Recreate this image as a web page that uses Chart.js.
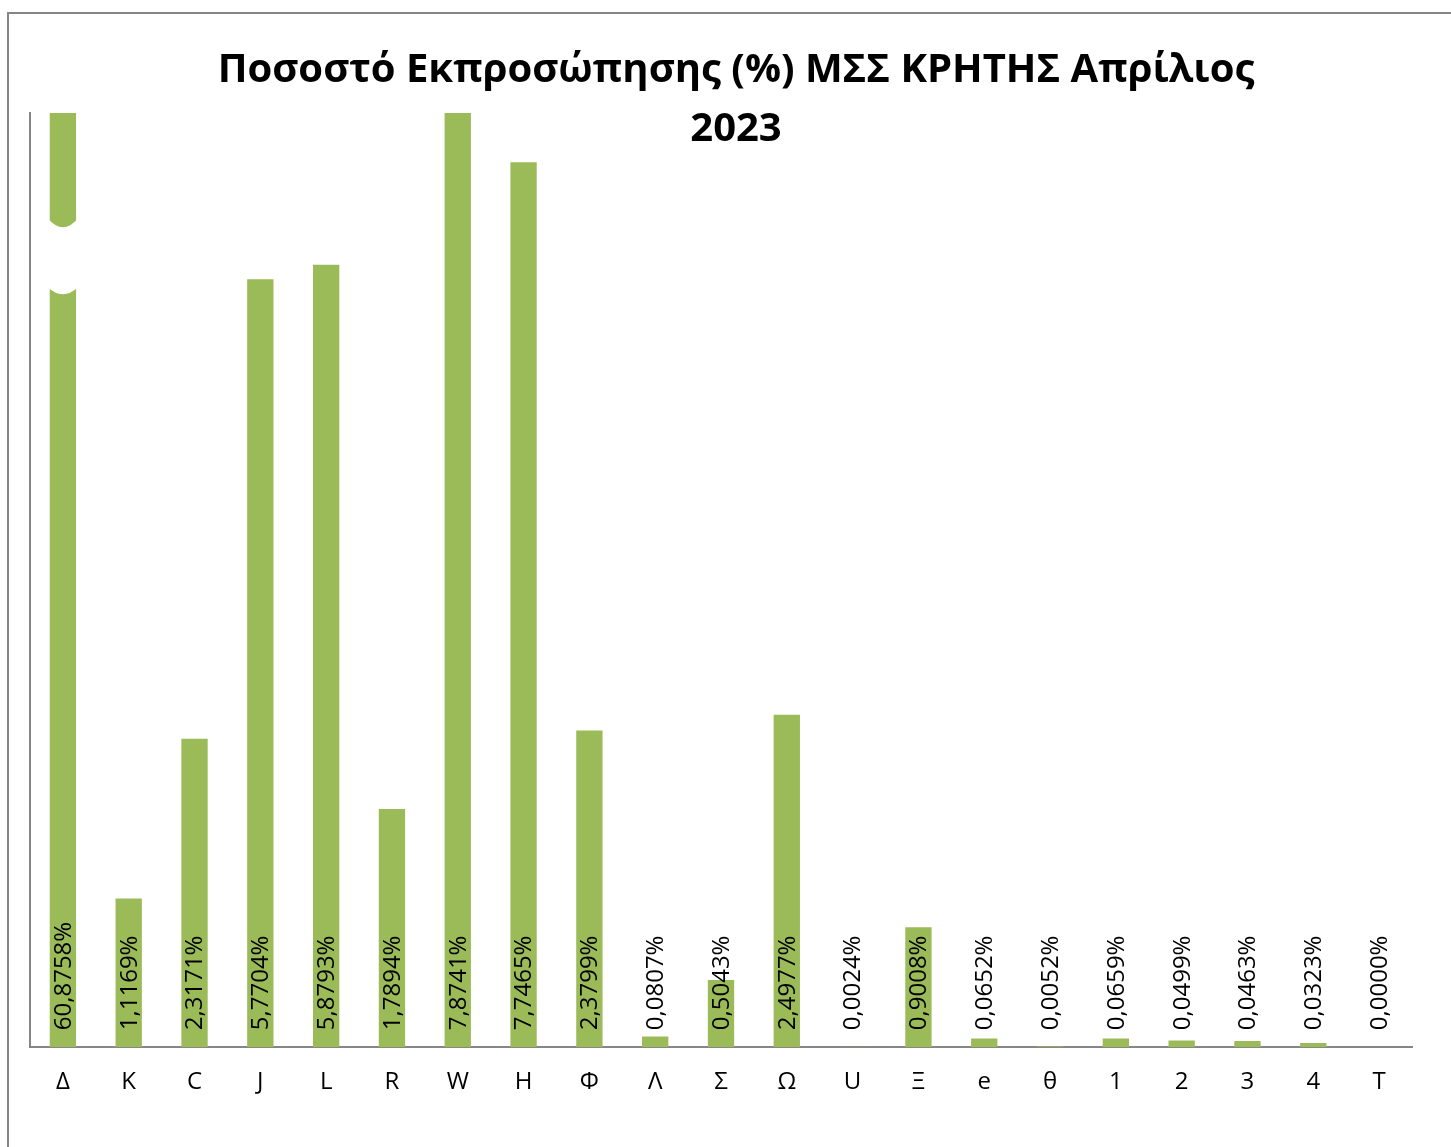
<!DOCTYPE html>
<html>
<head>
<meta charset="utf-8">
<script src="https://cdn.jsdelivr.net/npm/chart.js@4.4.0/dist/chart.umd.min.js"></script>
<style>
  html, body { margin: 0; padding: 0; background: #fff; }
  #wrap { position: relative; width: 1451px; height: 1147px; }
</style>
</head>
<body>
<div id="wrap"><canvas id="chart1" width="1451" height="1147"></canvas></div>
<script>
// categories and values
const categories = ['Δ', 'K', 'C', 'J', 'L', 'R', 'W', 'H', 'Φ', 'Λ', 'Σ', 'Ω', 'U', 'Ξ', 'e', 'θ', '1', '2', '3', '4', 'T'];
// printed data labels (%)
const shares = [60.8758, 1.1169, 2.3171, 5.7704, 5.8793, 1.7894, 7.8741, 7.7465, 2.3799, 0.0807, 0.5043,
  2.4977, 0.0024, 0.9008, 0.0652, 0.0052, 0.0659, 0.0499, 0.0463, 0.0323, 0.0000];
// bar heights as drawn (H bar is shorter than its label in the original)
const barHeights = [60.8758, 1.1169, 2.3171, 5.7704, 5.8793, 1.7894, 7.8741, 6.65, 2.3799, 0.0807, 0.5043,
  2.4977, 0.0024, 0.9008, 0.0652, 0.0052, 0.0659, 0.0499, 0.0463, 0.0323, 0.0000];
const titleLines = ['Ποσοστό Εκπροσώπησης (%) ΜΣΣ ΚΡΗΤΗΣ Απρίλιος', '2023'];

const green = '#9BBB59';
const axisGray = '#868686';

// outer frame + title, drawn on top without taking layout space
const framePlugin = {
  id: 'frame',
  afterDraw(chart) {
    const ctx = chart.ctx;
    ctx.save();
    ctx.strokeStyle = axisGray;
    ctx.lineWidth = 2;
    ctx.beginPath();
    ctx.moveTo(8, chart.height);
    ctx.lineTo(8, 13);
    ctx.lineTo(chart.width, 13);
    ctx.stroke();

    ctx.fillStyle = '#000';
    ctx.font = 'bold 40px "Open Sans", sans-serif';
    ctx.textAlign = 'center';
    ctx.textBaseline = 'alphabetic';
    const cx = 736;
    ctx.fillText(titleLines[0], cx, 82);
    ctx.fillText(titleLines[1], cx, 141);
    ctx.restore();
  }
};

// vertical data labels at the foot of each bar, plus the break on the first bar
const labelPlugin = {
  id: 'vlabels',
  afterDatasetsDraw(chart) {
    const ctx = chart.ctx;
    const meta = chart.getDatasetMeta(0);
    const y = chart.scales.y;
    const base = y.getPixelForValue(0);

    // axis break on the clipped first bar
    const b0 = meta.data[0];
    const half = b0.width / 2 + 2;
    const top = y.getPixelForValue(6.23);
    const bot = y.getPixelForValue(5.71);
    ctx.save();
    ctx.fillStyle = '#fff';
    ctx.beginPath();
    ctx.moveTo(b0.x - half, top);
    ctx.quadraticCurveTo(b0.x, top + 18, b0.x + half, top);
    ctx.lineTo(b0.x + half, bot);
    ctx.quadraticCurveTo(b0.x, bot + 14, b0.x - half, bot);
    ctx.closePath();
    ctx.fill();
    ctx.restore();

    ctx.save();
    ctx.fillStyle = '#000';
    ctx.font = '24px "Open Sans", sans-serif';
    ctx.textAlign = 'left';
    ctx.textBaseline = 'middle';
    meta.data.forEach((bar, i) => {
      const txt = shares[i].toFixed(4).replace('.', ',') + '%';
      ctx.save();
      ctx.translate(bar.x + 1, base - 17);
      ctx.rotate(-Math.PI / 2);
      ctx.fillText(txt, 0, 0);
      ctx.restore();
    });
    ctx.restore();
  }
};

new Chart(document.getElementById('chart1'), {
  type: 'bar',
  data: {
    labels: categories,
    datasets: [{
      data: barHeights,
      backgroundColor: green,
      borderWidth: 0,
      categoryPercentage: 1,
      barPercentage: 0.4
    }]
  },
  plugins: [labelPlugin, framePlugin],
  options: {
    responsive: false,
    animation: false,
    events: [],
    layout: { padding: { top: 113, left: 30, right: 39, bottom: 29 } },
    plugins: {
      legend: { display: false },
      title: { display: false },
      tooltip: { enabled: false }
    },
    scales: {
      x: {
        grid: { display: false, drawTicks: false, tickLength: 0 },
        border: { display: true, color: axisGray, width: 2 },
        ticks: {
          color: '#000',
          padding: 21,
          maxRotation: 0,
          autoSkip: false,
          font: { family: '"Open Sans", sans-serif', size: 24 }
        }
      },
      y: {
        min: 0,
        max: 7.02,
        grid: { display: false, drawTicks: false, tickLength: 0 },
        border: { display: true, color: axisGray, width: 2 },
        ticks: { display: false }
      }
    }
  }
});
</script>
</body>
</html>
